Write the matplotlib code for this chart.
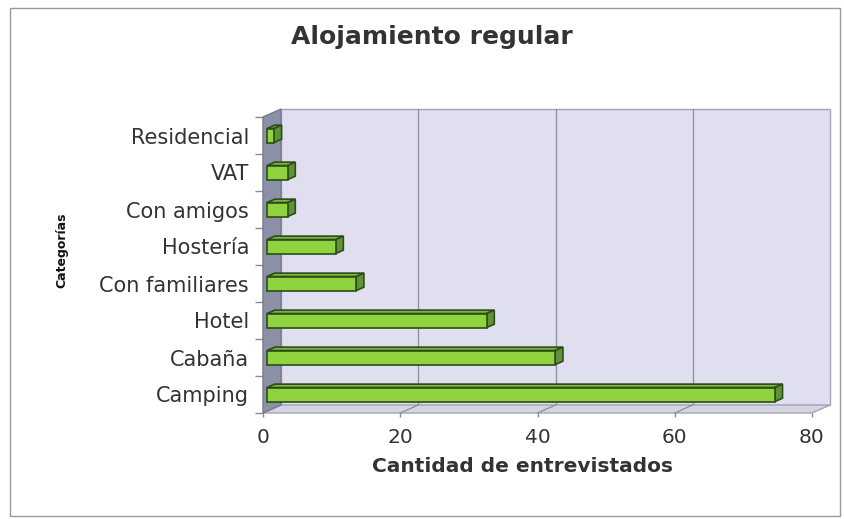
import matplotlib
matplotlib.use("Agg")
import matplotlib.pyplot as plt
import numpy as np
from matplotlib.patches import Polygon, Rectangle

categorias = ['Camping', 'Cabaña', 'Hotel', 'Con familiares', 'Hostería',
              'Con amigos', 'VAT', 'Residencial']
entrevistados = [74, 42, 32, 13, 10, 3, 3, 1]
ticks_x = [0, 20, 40, 60, 80]

W, H = 844, 519
TEXT = '#333333'

fig = plt.figure(figsize=(W / 100, H / 100), dpi=100)
ax = fig.add_axes([263 / W, 1 - 413 / H, 549 / W, 296 / H])
ax.set_xlim(0, 80)
ax.set_ylim(-0.5, len(categorias) - 0.5)
ax.patch.set_visible(False)
for s in ax.spines.values():
    s.set_visible(False)

# 3d depth of the chart, given in pixels and turned into data units
inv = ax.transData.inverted()
p0 = inv.transform((0, 0))
p1 = inv.transform((18, 8))
DX, DY = p1[0] - p0[0], p1[1] - p0[1]
ytop = len(categorias) - 0.5

# back wall, floor, side wall
ax.add_patch(Rectangle((DX, -0.5 + DY), 80, len(categorias), facecolor='#dfdff0',
                       edgecolor='#a4a4b4', lw=1, zorder=0, clip_on=False))
for t in ticks_x[1:-1]:
    ax.plot([t + DX, t + DX], [-0.5 + DY, ytop + DY], color='#8c8c9c', lw=0.9,
            zorder=1, clip_on=False)
ax.add_patch(Polygon([(0, -0.5), (80, -0.5), (80 + DX, -0.5 + DY), (DX, -0.5 + DY)],
                     closed=True, facecolor='#d4d4e2', edgecolor='#a4a4b4', lw=1,
                     zorder=1, clip_on=False))
for t in ticks_x[1:-1]:
    ax.plot([t, t + DX], [-0.5, -0.5 + DY], color='#8c8c9c', lw=0.9, zorder=2,
            clip_on=False)
ax.add_patch(Polygon([(0, -0.5), (0, ytop), (DX, ytop + DY), (DX, -0.5 + DY)],
                     closed=True, facecolor='#8c90a6', edgecolor='#767a8e', lw=1,
                     zorder=2, clip_on=False))

# bars: front face, top face and side face
f0, f1 = 0.22, 0.65
hh = 0.19
ys = np.arange(len(categorias)) - 0.05
edge = '#2f4a1c'
ax.barh(ys + f0 * DY, entrevistados, height=2 * hh, left=f0 * DX,
        color='#8fd43e', edgecolor=edge, lw=1.2, zorder=4, clip_on=False)
for y, v in zip(ys, entrevistados):
    xa, xb = f0 * DX, f1 * DX
    ya, yb = f0 * DY, f1 * DY
    ax.add_patch(Polygon([(xa, y + hh + ya), (xa + v, y + hh + ya),
                          (xb + v, y + hh + yb), (xb, y + hh + yb)], closed=True,
                         facecolor='#79b838', edgecolor=edge, lw=1.2, zorder=3,
                         clip_on=False))
    ax.add_patch(Polygon([(xa + v, y - hh + ya), (xa + v, y + hh + ya),
                          (xb + v, y + hh + yb), (xb + v, y - hh + yb)], closed=True,
                         facecolor='#5f9436', edgecolor=edge, lw=1.2, zorder=3,
                         clip_on=False))

# axes ticks and labels
ax.set_yticks(range(len(categorias)), categorias)
ax.set_yticks(np.arange(-0.5, len(categorias), 1), minor=True)
ax.tick_params(axis='y', which='major', length=0, pad=10, labelsize=15,
               labelcolor=TEXT)
ax.tick_params(axis='y', which='minor', length=6, width=1, color='#8a8a8a')
ax.set_xticks(ticks_x)
ax.tick_params(axis='x', length=3, width=1, color='#8a8a8a', pad=8,
               labelsize=14.5, labelcolor=TEXT)

fig.text(432 / W, 1 - 37 / H, 'Alojamiento regular', ha='center', va='center',
         fontsize=18, fontweight='bold', color=TEXT)
fig.text(523 / W, 1 - 467 / H, 'Cantidad de entrevistados', ha='center',
         va='center', fontsize=14.5, fontweight='bold', color=TEXT)
fig.text(62 / W, 1 - 250 / H, 'Categorías', ha='center', va='center',
         rotation=90, fontsize=9, fontweight='bold', color='#111111')

# outer frame of the chart
fig.add_artist(Rectangle((10 / W, 1 - 516 / H), 830 / W, 508 / H,
                         transform=fig.transFigure, fill=False,
                         edgecolor='#9a9a9a', lw=1))

fig.savefig('out.png', dpi=100, facecolor='white')
